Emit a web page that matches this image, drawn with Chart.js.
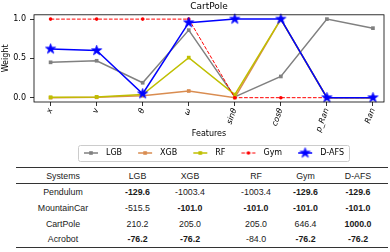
<!DOCTYPE html>
<html>
<head>
<meta charset="utf-8">
<script src="https://cdn.jsdelivr.net/npm/chart.js@4.4.1/dist/chart.umd.min.js"></script>
<style>
  html, body { margin: 0; padding: 0; background: #fff; }
  #wrap { position: relative; width: 390px; height: 252px; overflow: hidden; }
  #weights { position: absolute; left: 0; top: 0; }
  table {
    position: absolute; left: 16px; top: 167px; width: 372px;
    border-collapse: collapse; table-layout: fixed;
    font-family: "Liberation Sans", Arial, sans-serif; font-size: 8.8px; color: #1a1a1a;
  }
  th, td { box-sizing: border-box; padding: 0; text-align: center; font-weight: normal; white-space: nowrap; }
  thead tr { height: 16px; border-top: 1.6px solid #333; border-bottom: 0.8px solid #333; }
  tbody tr { height: 16px; }
  tbody tr:last-child { border-bottom: 1.6px solid #333; }
  .c1 { padding-left: 10px; }
  .c2 { padding-left: 11px; }
  .c3 { padding-right: 7px; }
  .c4 { padding-left: 8px; }
  .c5 { padding-right: 2px; }
  .c6 { padding-right: 4px; }
  .best { font-weight: bold; }
</style>
</head>
<body>
<div id="wrap">
  <canvas id="weights" width="390" height="167"></canvas>
  <table id="rewards">
    <colgroup>
      <col style="width:84px"><col style="width:64px"><col style="width:59px">
      <col style="width:58px"><col style="width:51px"><col style="width:56px">
    </colgroup>
    <thead></thead>
    <tbody></tbody>
  </table>
</div>
<script>
// feature weights for CartPole
const features = ['x', 'v', 'θ', 'ω', 'sinθ', 'cosθ', 'p_Ran', 'Ran'];
const lgbWeights = [0.45, 0.47, 0.19, 0.86, 0.01, 0.27, 1.0, 0.885];
const xgbWeights = [0.0, 0.005, 0.025, 0.085, 0.0, 1.0, 0.0, 0.0];
const rfWeights = [0.005, 0.01, 0.04, 0.51, 0.04, 1.0, 0.0, 0.0];
const gymWeights = [1, 1, 1, 1, 0, 0, 0, 0];
const dafsWeights = [0.62, 0.60, 0.05, 0.955, 1.0, 1.0, 0.0, 0.0];
const yTicks = [0, 0.5, 1.0];

// table of rewards
const methods = ['LGB', 'XGB', 'RF', 'Gym', 'D-AFS'];
const systems = ['Pendulum', 'MountainCar', 'CartPole', 'Acrobot'];
const pendulumRewards = [-129.6, -1003.4, -1003.4, -129.6, -129.6];
const mountainCarRewards = [-515.5, -101.0, -101.0, -101.0, -101.0];
const cartPoleRewards = [210.2, 205.0, 205.0, 646.4, 1000.0];
const acrobotRewards = [-76.2, -76.2, -84.0, -76.2, -76.2];

const FONT = 'DejaVu Sans';

function makeStar(color, r) {
    const c = document.createElement('canvas');
    const s = Math.ceil(r * 2 + 2);
    c.width = s; c.height = s;
    const g = c.getContext('2d');
    g.beginPath();
    for (let i = 0; i < 10; i++) {
        const rad = i % 2 === 0 ? r : r * 0.382;
        const a = -Math.PI / 2 + i * Math.PI / 5;
        const px = s / 2 + rad * Math.cos(a), py = s / 2 + rad * Math.sin(a);
        if (i) g.lineTo(px, py); else g.moveTo(px, py);
    }
    g.closePath();
    g.fillStyle = color;
    g.fill();
    g.strokeStyle = color;
    g.lineWidth = 0.8;
    g.stroke();
    return c;
}

// legend icon: blank lead-in, then a short line with the marker on it
function makeLegendIcon(ds) {
    const c = document.createElement('canvas');
    c.width = 28; c.height = 12;
    const g = c.getContext('2d');
    g.strokeStyle = ds.borderColor;
    g.lineWidth = ds.borderWidth;
    if (ds.borderDash) g.setLineDash(ds.borderDash);
    g.beginPath();
    g.moveTo(10, 6); g.lineTo(24, 6);
    g.stroke();
    g.setLineDash([]);
    g.fillStyle = ds.borderColor;
    if (ds.pointStyle === 'rect') {
        g.fillRect(17 - 1.8, 6 - 1.8, 3.6, 3.6);
    } else if (ds.pointStyle === 'circle') {
        g.beginPath(); g.arc(17, 6, 1.8, 0, Math.PI * 2); g.fill();
    } else {
        const st = ds.pointStyle;
        g.drawImage(st, 17 - st.width / 2, 6 - st.height / 2);
    }
    return c;
}

const toPoints = arr => arr.map((v, i) => ({ x: i, y: v }));

const datasets = [
    { label: 'LGB', data: toPoints(lgbWeights), borderColor: '#808080', pointStyle: 'rect', order: 4 },
    { label: 'XGB', data: toPoints(xgbWeights), borderColor: '#d98c50', pointStyle: 'rect', order: 3 },
    { label: 'RF', data: toPoints(rfWeights), borderColor: '#bfbf00', pointStyle: 'rect', order: 2 },
    { label: 'Gym', data: toPoints(gymWeights), borderColor: '#ff0000', pointStyle: 'circle', pointRadius: 1.8,
      borderWidth: 1, borderDash: [3.7, 1.6], order: 1 },
    { label: 'D-AFS', data: toPoints(dafsWeights), borderColor: '#0000ff', pointStyle: makeStar('#0000ff', 5.3),
      pointRadius: 5, order: 0 }
].map(ds => Object.assign({
    borderWidth: 1.5,
    pointRadius: 2.6,
    pointBorderWidth: 0,
    backgroundColor: ds.borderColor,
    pointBackgroundColor: ds.borderColor,
    tension: 0,
    clip: false
}, ds));

const legendIcons = datasets.map(makeLegendIcon);

const framePlugin = {
    id: 'frames',
    afterDraw(chart) {
        const { ctx, chartArea: a } = chart;
        ctx.save();
        ctx.strokeStyle = '#000';
        ctx.lineWidth = 0.8;
        ctx.strokeRect(a.left, a.top, a.right - a.left, a.bottom - a.top);

        const boxes = chart.legend.legendHitBoxes;
        if (boxes && boxes.length) {
            const first = boxes[0], last = boxes[boxes.length - 1];
            const x0 = first.left + 4, x1 = last.left + last.width + 5;
            const y0 = first.top - 4, y1 = first.top + first.height + 4;
            ctx.strokeStyle = '#cccccc';
            ctx.lineWidth = 1;
            ctx.beginPath();
            ctx.roundRect(Math.round(x0) + 0.5, Math.round(y0) + 0.5, Math.round(x1 - x0), Math.round(y1 - y0), 2);
            ctx.stroke();
        }
        ctx.restore();
    }
};

new Chart(document.getElementById('weights'), {
    type: 'line',
    data: { datasets: datasets },
    options: {
        responsive: false,
        animation: false,
        devicePixelRatio: 1,
        layout: { padding: { left: 0, right: 6, top: 0, bottom: 0 } },
        plugins: {
            title: {
                display: true, text: 'CartPole', color: '#000', fullSize: false,
                font: { family: FONT, size: 9, weight: 'normal' },
                padding: { top: 1, bottom: 3 }
            },
            legend: {
                position: 'bottom',
                fullSize: false,
                labels: {
                    usePointStyle: true,
                    pointStyleWidth: 28,
                    padding: 6,
                    color: '#000',
                    font: { family: FONT, size: 8 },
                    generateLabels: chart => chart.data.datasets.map((ds, i) => ({
                        text: ds.label,
                        pointStyle: legendIcons[i],
                        fillStyle: 'transparent',
                        strokeStyle: 'transparent',
                        lineWidth: 0,
                        hidden: false,
                        datasetIndex: i,
                        fontColor: '#000'
                    }))
                }
            },
            tooltip: { enabled: false }
        },
        scales: {
            x: {
                type: 'linear',
                min: -0.36,
                max: 7.24,
                afterBuildTicks: scale => { scale.ticks = features.map((f, i) => ({ value: i })); },
                afterFit: scale => { scale.height = 41; },
                border: { display: false },
                grid: { drawOnChartArea: false, drawTicks: true, tickLength: 4, color: '#000', lineWidth: 0.8 },
                ticks: {
                    autoSkip: false,
                    minRotation: 70,
                    maxRotation: 70,
                    padding: 1,
                    color: '#000',
                    font: { family: FONT, size: 8, style: 'italic' },
                    callback: value => features[value]
                },
                title: {
                    display: true, text: 'Features', color: '#000',
                    font: { family: FONT, size: 8 },
                    padding: { top: 0, bottom: 4.2 }
                }
            },
            y: {
                min: -0.055,
                max: 1.055,
                afterBuildTicks: scale => { scale.ticks = yTicks.map(v => ({ value: v })); },
                afterFit: scale => { scale.width = 34; },
                border: { display: false },
                grid: { drawOnChartArea: false, drawTicks: true, tickLength: 4, color: '#000', lineWidth: 0.8 },
                ticks: {
                    padding: 4,
                    color: '#000',
                    font: { family: FONT, size: 8 },
                    callback: value => value.toFixed(1)
                },
                title: {
                    display: true, text: 'Weight', color: '#000',
                    font: { family: FONT, size: 8 },
                    padding: { top: 1, bottom: 0 }
                }
            }
        }
    },
    plugins: [framePlugin]
});

// reward table, best value per row in bold
const rows = [pendulumRewards, mountainCarRewards, cartPoleRewards, acrobotRewards];
const thead = document.querySelector('#rewards thead');
const tbody = document.querySelector('#rewards tbody');
thead.innerHTML = '<tr>' + ['Systems'].concat(methods)
    .map((h, i) => `<th class="c${i + 1}">${h}</th>`).join('') + '</tr>';
rows.forEach((vals, r) => {
    const best = Math.max(...vals);
    const cells = vals.map((v, i) =>
        `<td class="c${i + 2}${v === best ? ' best' : ''}">${v.toFixed(1)}</td>`).join('');
    tbody.innerHTML += `<tr><td class="c1">${systems[r]}</td>${cells}</tr>`;
});
</script>
</body>
</html>
